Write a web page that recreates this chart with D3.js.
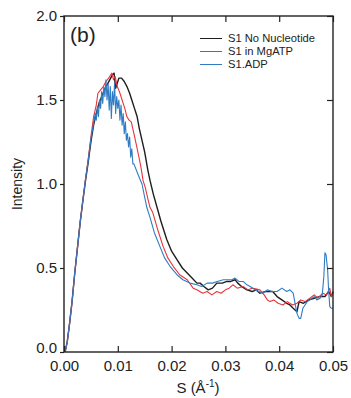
<!DOCTYPE html>
<html>
  <head>
    <meta charset="utf-8">
    <title>S1 scattering profiles</title>
    <script src="https://cdn.jsdelivr.net/npm/d3@7"></script>
    <style>
      body { margin: 0; background: #fff; }
      text { font-family: "Liberation Sans", Arial, sans-serif; fill: #222; }
      .tickLabel { font-size: 15px; }
      .legendText { font-size: 11.2px; }
    </style>
  </head>

  <body>
    <svg id="chart" width="351" height="398"></svg>

    <script>
      // data: [S, intensity]
      noNucleotide = [
        [0.0002, 0], [0.0006, 0.06], [0.001, 0.16], [0.0015, 0.3], [0.002, 0.47], [0.0025, 0.62],
        [0.003, 0.77], [0.0035, 0.9], [0.004, 1.02], [0.0045, 1.13], [0.005, 1.25], [0.0055, 1.35],
        [0.006, 1.42], [0.0065, 1.48], [0.007, 1.52], [0.0075, 1.56], [0.008, 1.59], [0.0085, 1.62],
        [0.009, 1.65], [0.0093, 1.66], [0.0096, 1.57], [0.0099, 1.6], [0.0102, 1.63], [0.0107, 1.63],
        [0.0112, 1.61], [0.0117, 1.58], [0.0122, 1.54], [0.0126, 1.5], [0.0131, 1.45], [0.0136, 1.4],
        [0.014, 1.33], [0.0145, 1.26], [0.015, 1.19], [0.0156, 1.08], [0.016, 1.02], [0.0166, 0.94],
        [0.0173, 0.86], [0.018, 0.78], [0.0191, 0.67], [0.02, 0.6], [0.021, 0.55], [0.022, 0.5],
        [0.0229, 0.47], [0.0238, 0.44], [0.0247, 0.41], [0.0253, 0.41], [0.026, 0.39], [0.0268, 0.37],
        [0.0276, 0.38], [0.0284, 0.41], [0.0294, 0.41], [0.0303, 0.42], [0.031, 0.42], [0.0318, 0.43],
        [0.0323, 0.41], [0.033, 0.39], [0.034, 0.37], [0.035, 0.36], [0.0357, 0.37], [0.0364, 0.35],
        [0.0375, 0.36], [0.0388, 0.36], [0.0396, 0.33], [0.0405, 0.31], [0.0414, 0.29], [0.042, 0.28],
        [0.0426, 0.26], [0.0433, 0.24], [0.0437, 0.3], [0.0445, 0.29], [0.0455, 0.31], [0.0465, 0.32],
        [0.0475, 0.33], [0.0485, 0.33], [0.0492, 0.36], [0.0497, 0.33], [0.05, 0.36]
      ];

      inMgATP = [
        [0.0002, 0], [0.0006, 0.06], [0.001, 0.16], [0.0015, 0.3], [0.002, 0.47], [0.0025, 0.62],
        [0.003, 0.77], [0.0035, 0.9], [0.004, 1.03], [0.0045, 1.15], [0.005, 1.28], [0.0055, 1.4],
        [0.006, 1.47], [0.0063, 1.54], [0.0068, 1.56], [0.0073, 1.58], [0.0078, 1.61], [0.0083, 1.63],
        [0.0087, 1.65], [0.0089, 1.66], [0.0092, 1.62], [0.0095, 1.64], [0.0099, 1.58], [0.0103, 1.55],
        [0.0108, 1.5], [0.0113, 1.45], [0.0117, 1.4], [0.0121, 1.38], [0.0125, 1.37], [0.013, 1.3],
        [0.0134, 1.24], [0.0138, 1.18], [0.0143, 1.1], [0.0147, 1.02], [0.0151, 0.98], [0.0156, 0.91],
        [0.016, 0.86], [0.0165, 0.83], [0.0175, 0.72], [0.0184, 0.63], [0.0193, 0.56], [0.0203, 0.51],
        [0.0215, 0.46], [0.0229, 0.43], [0.024, 0.38], [0.0247, 0.37], [0.0258, 0.35], [0.0266, 0.36],
        [0.0275, 0.34], [0.0284, 0.36], [0.0292, 0.35], [0.03, 0.37], [0.0307, 0.38], [0.0314, 0.4],
        [0.0322, 0.38], [0.0333, 0.39], [0.0342, 0.37], [0.035, 0.38], [0.0364, 0.37], [0.0372, 0.34],
        [0.0378, 0.31], [0.0383, 0.3], [0.039, 0.31], [0.0398, 0.29], [0.0407, 0.28], [0.0415, 0.3],
        [0.0425, 0.28], [0.0433, 0.29], [0.044, 0.31], [0.0448, 0.3], [0.0457, 0.32], [0.0465, 0.34],
        [0.0472, 0.32], [0.0481, 0.35], [0.0488, 0.34], [0.0494, 0.38], [0.0497, 0.33], [0.05, 0.35]
      ];

      adp = [
        [0.0002, 0], [0.0006, 0.06], [0.001, 0.16], [0.0015, 0.3], [0.002, 0.47], [0.0025, 0.62],
        [0.003, 0.77], [0.0035, 0.9], [0.004, 1.03], [0.0045, 1.14], [0.005, 1.27], [0.0055, 1.36],
        [0.0058, 1.42], [0.006, 1.38], [0.0062, 1.46], [0.0064, 1.4], [0.0066, 1.5], [0.0068, 1.45],
        [0.007, 1.55], [0.0072, 1.48], [0.0074, 1.58], [0.0076, 1.52], [0.0078, 1.62], [0.008, 1.5],
        [0.0082, 1.6], [0.0084, 1.44], [0.0086, 1.58], [0.0088, 1.39], [0.009, 1.55], [0.0092, 1.47],
        [0.0094, 1.6], [0.0096, 1.42], [0.0098, 1.52], [0.01, 1.45], [0.0102, 1.5], [0.0104, 1.38],
        [0.0106, 1.47], [0.0108, 1.35], [0.011, 1.42], [0.0112, 1.3], [0.0114, 1.37], [0.0116, 1.26],
        [0.0118, 1.3], [0.012, 1.22], [0.0122, 1.28], [0.0124, 1.16], [0.0126, 1.21], [0.0128, 1.12],
        [0.013, 1.12], [0.0136, 1.07], [0.0141, 1.03], [0.0145, 1.0], [0.015, 0.92], [0.0154, 0.86],
        [0.016, 0.8], [0.0168, 0.71], [0.0178, 0.63], [0.0187, 0.56], [0.0197, 0.51], [0.021, 0.46],
        [0.0221, 0.43], [0.0234, 0.41], [0.0247, 0.4], [0.0256, 0.39], [0.0266, 0.41], [0.0276, 0.41],
        [0.0285, 0.42], [0.0296, 0.43], [0.0305, 0.43], [0.0312, 0.43], [0.0318, 0.44], [0.0325, 0.42],
        [0.0333, 0.42], [0.034, 0.4], [0.0346, 0.39], [0.0355, 0.37], [0.0362, 0.36], [0.037, 0.35],
        [0.0378, 0.37], [0.0386, 0.36], [0.0396, 0.36], [0.0405, 0.38], [0.0414, 0.36], [0.042, 0.37],
        [0.0426, 0.35], [0.043, 0.28], [0.0433, 0.23], [0.0437, 0.2], [0.044, 0.2], [0.0444, 0.26],
        [0.0448, 0.28], [0.0452, 0.3], [0.0457, 0.31], [0.0465, 0.33], [0.047, 0.31], [0.0476, 0.32],
        [0.048, 0.34], [0.0483, 0.45], [0.0485, 0.59], [0.0487, 0.58], [0.049, 0.49], [0.0492, 0.36],
        [0.0494, 0.27], [0.0497, 0.26], [0.05, 0.26]
      ];

      xTicks = [0, 0.01, 0.02, 0.03, 0.04, 0.05];
      yTicks = [0, 0.5, 1.0, 1.5, 2.0];
      seriesNames = ["S1 No Nucleotide", "S1 in MgATP", "S1.ADP"];
      seriesColors = ["#1e1e1e", "#e8343c", "#2f7cc4"];
      seriesData = [noNucleotide, inMgATP, adp];

      // page elements
      svg = d3.select("#chart");
      margin = { top: 16, right: 18, bottom: 46, left: 64 };
      width = 351 - margin.left - margin.right;
      height = 398 - margin.top - margin.bottom;
      plot = svg.append("g").attr("transform", "translate(" + margin.left + "," + margin.top + ")");

      x = d3.scaleLinear().domain([0, 0.05]).range([0, width]);
      y = d3.scaleLinear().domain([0, 2]).range([height, 0]);

      // curves
      line = d3.line()
        .x(function(d) { return x(d[0]); })
        .y(function(d) { return y(d[1]); });

      plot.selectAll(".series")
          .data(seriesData)
        .enter().append("path")
          .attr("class", "series")
          .attr("fill", "none")
          .attr("stroke", function(d, i) { return seriesColors[i]; })
          .attr("stroke-width", function(d, i) { return i == 0 ? 1.4 : 1.1; })
          .attr("stroke-linejoin", "round")
          .attr("d", line);

      // axes: bottom/top/right ticks point inward, left ticks outward
      fmtX = d3.format(".2f");
      fmtY = d3.format(".1f");
      plot.append("g")
        .attr("transform", "translate(0," + height + ")")
        .call(d3.axisBottom(x).tickValues(xTicks).tickSizeInner(-6).tickSizeOuter(0).tickPadding(8).tickFormat(fmtX))
        .call(function(g) {
          g.select(".domain").remove();
          g.selectAll("text").attr("class", "tickLabel").attr("font-size", null).attr("font-family", null);
        });
      plot.append("g")
        .call(d3.axisTop(x).tickValues(xTicks).tickSizeInner(-6).tickSizeOuter(0).tickFormat(""))
        .select(".domain").remove();
      plot.append("g")
        .call(d3.axisLeft(y).tickValues(yTicks).tickSizeInner(4).tickSizeOuter(0).tickPadding(3).tickFormat(fmtY))
        .call(function(g) {
          g.select(".domain").remove();
          g.selectAll("text").attr("class", "tickLabel").attr("font-size", null).attr("font-family", null);
          g.selectAll(".tick").filter(function(d) { return d == 0; }).select("text").attr("dy", "0.05em");
        });
      plot.append("g")
        .attr("transform", "translate(" + width + ",0)")
        .call(d3.axisRight(y).tickValues(yTicks).tickSizeInner(-6).tickSizeOuter(0).tickFormat(""))
        .select(".domain").remove();
      plot.selectAll(".tick line").attr("stroke", "#222").attr("stroke-width", 1.2);

      plot.append("rect")
        .attr("width", width)
        .attr("height", height)
        .attr("fill", "none")
        .attr("stroke", "#222")
        .attr("stroke-width", 1.4);

      // labels
      plot.append("text")
        .attr("x", 6)
        .attr("y", 26)
        .attr("font-size", 21)
        .text("(b)");

      xTitle = svg.append("text")
        .attr("x", 198)
        .attr("y", 393)
        .attr("text-anchor", "middle")
        .attr("font-size", 15);
      xTitle.append("tspan").text("S  (Å");
      xTitle.append("tspan").attr("font-size", 10).attr("dy", -6).text("-1");
      xTitle.append("tspan").attr("dy", 6).text(")");

      svg.append("text")
        .attr("transform", "translate(22,184) rotate(-90)")
        .attr("text-anchor", "middle")
        .attr("font-size", 14)
        .text("Intensity");

      // legend
      legend = svg.selectAll(".legend")
          .data(seriesNames)
        .enter().append("g")
          .attr("class", "legend")
          .attr("transform", function(d, i) { return "translate(200," + (38.5 + i * 13) + ")"; });
      legend.append("line")
        .attr("x2", 22)
        .attr("stroke", function(d, i) { return seriesColors[i]; })
        .attr("stroke-width", 1);
      legend.append("text")
        .attr("class", "legendText")
        .attr("x", 28)
        .attr("dy", "0.35em")
        .text(function(d) { return d; });
    </script>
  </body>
</html>
